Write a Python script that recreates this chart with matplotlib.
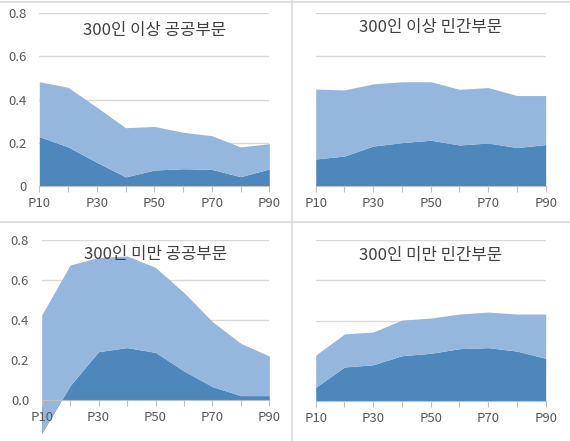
import matplotlib.pyplot as plt
from matplotlib.lines import Line2D

plt.rcParams['font.family'] = ['Noto Sans CJK KR', 'DejaVu Sans']

# data
pct = ["P10", "P20", "P30", "P40", "P50", "P60", "P70", "P80", "P90"]
xlabels = ["P10", "", "P30", "", "P50", "", "P70", "", "P90"]
titles = ["300인 이상 공공부문", "300인 이상 민간부문", "300인 미만 공공부문", "300인 미만 민간부문"]

large_pub_low = [0.229, 0.181, 0.110, 0.042, 0.074, 0.080, 0.077, 0.043, 0.079]
large_pub_up = [0.254, 0.276, 0.255, 0.228, 0.202, 0.169, 0.156, 0.138, 0.117]
large_prv_low = [0.125, 0.139, 0.185, 0.201, 0.212, 0.190, 0.199, 0.178, 0.192]
large_prv_up = [0.324, 0.306, 0.288, 0.282, 0.271, 0.258, 0.257, 0.241, 0.227]
small_pub_low = [-0.167, 0.072, 0.242, 0.262, 0.238, 0.145, 0.067, 0.022, 0.022]
small_pub_up = [0.592, 0.603, 0.471, 0.458, 0.425, 0.392, 0.325, 0.261, 0.198]
small_prv_low = [0.068, 0.169, 0.180, 0.225, 0.237, 0.260, 0.265, 0.248, 0.212]
small_prv_up = [0.160, 0.164, 0.163, 0.177, 0.175, 0.172, 0.177, 0.184, 0.220]

ytick_vals = [0, 0.2, 0.4, 0.6, 0.8]
ylab_top = ["0", "0.2", "0.4", "0.6", "0.8"]
ylab_bottom = ["0.0", "0.2", "0.4", "0.6", "0.8"]

dark = "#4d87bb"
light = "#95b7de"
grid_c = "#d9d9d9"
txt_c = "#595959"

W, H = 570, 441
fig = plt.figure(figsize=(W / 100, H / 100), dpi=100)

# axes boxes in pixels: left, right, top(0.8), bottom(0)
boxes = [(39.3, 269.3, 13.3, 186.0),
         (315.7, 545.7, 13.3, 186.0),
         (41.7, 269.3, 240.0, 400.0),
         (315.7, 545.7, 240.0, 401.0)]
series = [(large_pub_low, large_pub_up), (large_prv_low, large_prv_up),
          (small_pub_low, small_pub_up), (small_prv_low, small_prv_up)]
ylabs = [ylab_top, None, ylab_bottom, None]
title_y = [0.90, 0.915, 0.91, 0.905]

x = list(range(len(pct)))
for (l, r, t, b), (low, up), title, yl, ty in zip(boxes, series, titles, ylabs, title_y):
    ax = fig.add_axes([l / W, 1 - b / H, (r - l) / W, (b - t) / H])
    top = [a + c for a, c in zip(low, up)]
    ax.fill_between(x, 0, low, color=dark, lw=0, zorder=2, clip_on=False)
    ax.fill_between(x, low, top, color=light, lw=0, zorder=3, clip_on=False)
    ax.set_xlim(0, len(pct) - 1)
    ax.set_ylim(0, 0.8)
    ax.set_yticks(ytick_vals)
    for v in ytick_vals[1:]:
        ax.axhline(v, color=grid_c, lw=1, zorder=1)
    for s in ["left", "right", "top"]:
        ax.spines[s].set_visible(False)
    ax.spines["bottom"].set_color("#bfbfbf")
    ax.spines["bottom"].set_zorder(4)
    ax.xaxis.set_zorder(5)
    ax.set_xticks(x)
    ax.set_xticklabels(xlabels)
    ax.tick_params(axis="x", length=4, color="#bfbfbf", labelsize=9.5,
                   labelcolor=txt_c, pad=4)
    ax.tick_params(axis="y", length=0, labelsize=9.5, labelcolor=txt_c, pad=9)
    if yl is None:
        ax.set_yticklabels([])
    else:
        ax.set_yticklabels(yl)
    ax.text(0.5, ty, title, transform=ax.transAxes, ha="center", va="center",
            fontsize=12, fontweight="medium", color="#404040", zorder=6)

# panel separators
fig.add_artist(Line2D([292 / W, 292 / W], [0, 1], color="#d9d9d9", lw=1.2))
fig.add_artist(Line2D([0, 1], [1 - 222 / H, 1 - 222 / H], color="#d9d9d9", lw=1.2))
fig.add_artist(Line2D([0, 1], [1 - 1.5 / H, 1 - 1.5 / H], color="#d9d9d9", lw=1.2))

fig.savefig("out.png", dpi=100)
